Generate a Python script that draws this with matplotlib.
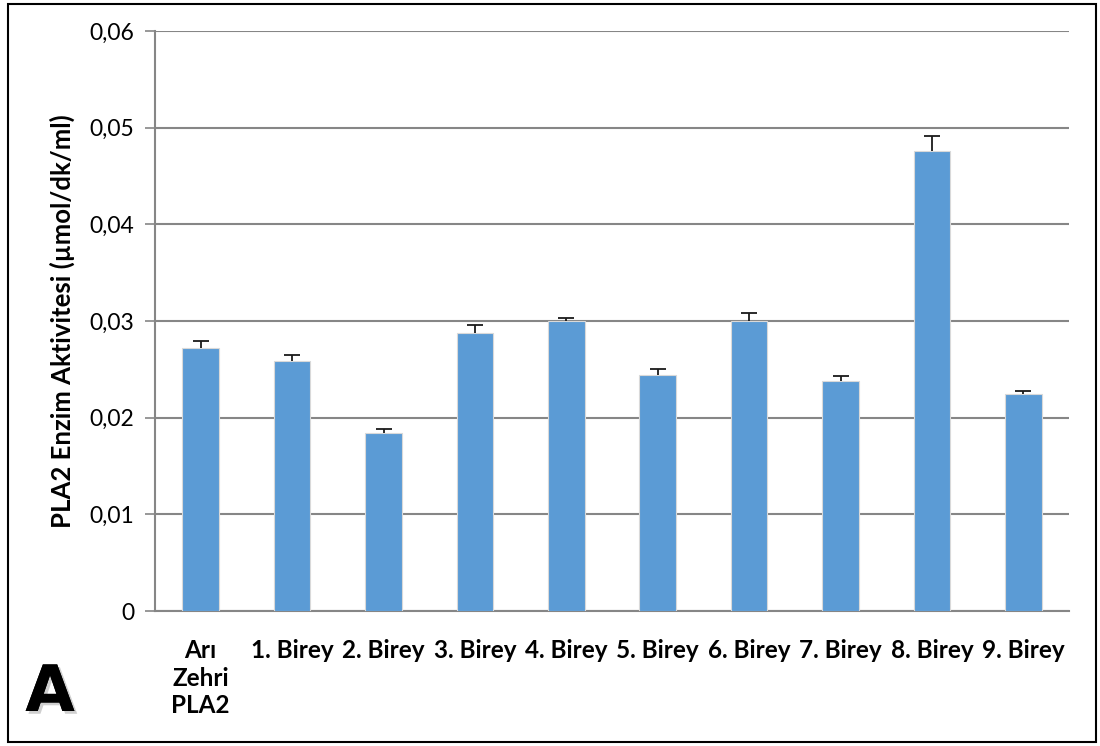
import numpy as np
import matplotlib
matplotlib.use("Agg")
import matplotlib.pyplot as plt
import matplotlib.patheffects as pe
from matplotlib.patches import Rectangle
from matplotlib.ticker import FuncFormatter

plt.rcParams['font.family'] = ['Lato', 'DejaVu Sans']

# Veriler
kategoriler = ["Arı\nZehri\nPLA2", "1. Birey", "2. Birey", "3. Birey", "4. Birey",
               "5. Birey", "6. Birey", "7. Birey", "8. Birey", "9. Birey"]
aktivite = [0.0272, 0.0259, 0.0184, 0.0288, 0.0300, 0.0244, 0.0300, 0.0238, 0.0476, 0.0224]
hata = [0.0007, 0.0006, 0.0004, 0.0008, 0.0003, 0.0006, 0.0008, 0.0005, 0.0015, 0.0004]
y_ticks = [0, 0.01, 0.02, 0.03, 0.04, 0.05, 0.06]

fig = plt.figure(figsize=(11, 7.46), dpi=100)
ax = fig.add_axes([155 / 1100, 1 - 611 / 746, (1069 - 155) / 1100, (611 - 31) / 746])

x = np.arange(len(kategoriler))
ax.bar(x, aktivite, width=0.4, color="#5B9BD5", edgecolor="#d9d9d9", linewidth=0.8, zorder=3)
eb = ax.errorbar(x, aktivite, yerr=[np.zeros(len(hata)), hata], fmt="none",
                 ecolor="#1a1a1a", elinewidth=1.3, capsize=6, capthick=1.3, zorder=4)
# sadece üst kapak
eb[1][0].set_visible(False)

ax.set_xlim(-0.5, len(kategoriler) - 0.5)
ax.set_ylim(0, 0.06)
ax.set_yticks(y_ticks)
ax.yaxis.set_major_formatter(FuncFormatter(lambda v, p: "0" if v == 0 else f"{v:.2f}".replace(".", ",")))
ax.set_xticks(x)
ax.set_xticklabels(kategoriler, fontsize=17.5, fontweight="bold", linespacing=1.25, va="top")
ax.tick_params(axis="x", length=0, pad=20)
ax.tick_params(axis="y", length=7, color="#868686", width=1.2, labelsize=16.5, pad=8)

ax.grid(axis="y", color="#868686", linewidth=1.5, zorder=0)
for s in ["top", "right"]:
    ax.spines[s].set_visible(False)
for s in ["left", "bottom"]:
    ax.spines[s].set_color("#868686")
    ax.spines[s].set_linewidth(1.5)

ax.set_ylabel("PLA2 Enzim Aktivitesi (µmol/dk/ml)", fontsize=18.5, fontweight="bold", labelpad=10)

fig.text(50 / 1100, 1 - 693 / 746, "A", fontsize=46, fontweight="bold", family="DejaVu Sans",
         ha="center", va="center",
         path_effects=[pe.withSimplePatchShadow(offset=(2, -2), shadow_rgbFace="#888888", alpha=0.4), pe.Normal()])

fig.patches.append(Rectangle((8 / 1100, 1 - 742 / 746), 1088 / 1100, 738 / 746,
                             transform=fig.transFigure, fill=False, edgecolor="black", linewidth=1.5))

fig.savefig("out.png", dpi=100)
